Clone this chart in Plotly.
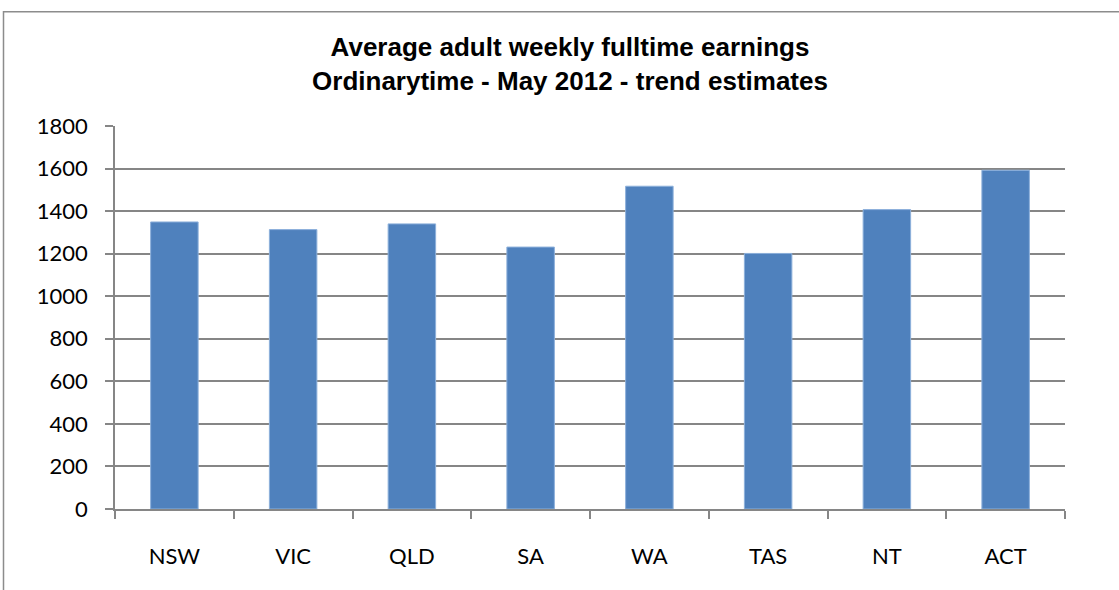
import plotly.graph_objects as go

states = ["NSW", "VIC", "QLD", "SA", "WA", "TAS", "NT", "ACT"]
earnings = [1349, 1313, 1340, 1231, 1517, 1201, 1407, 1592]
y_ticks = [0, 200, 400, 600, 800, 1000, 1200, 1400, 1600, 1800]

W, H = 1119, 590
L, R, T, B = 115, 54, 125.5, 80.5
pw, ph = W - L - R, H - T - B

def px_x(x):
    return (x - L) / pw

def px_y(y):
    return (H - B - y) / ph

fig = go.Figure(go.Bar(
    x=states, y=earnings,
    marker=dict(color="#4F81BD", line=dict(color="#8DB0DB", width=1)),
    width=0.4,
))

fig.update_layout(
    width=W, height=H,
    margin=dict(l=L, r=R, t=T, b=B),
    paper_bgcolor="white", plot_bgcolor="white",
    showlegend=False,
    title=dict(
        text="Average adult weekly fulltime earnings<br>Ordinarytime - May 2012 - trend estimates",
        x=570 / W, xanchor="center", xref="container",
        y=1 - 56 / H, yanchor="top",
        font=dict(family="Liberation Sans", size=26, color="black", weight="bold"),
    ),
    shapes=[dict(
        type="rect", xref="paper", yref="paper",
        x0=px_x(3.5), x1=px_x(1140), y0=px_y(11), y1=px_y(620),
        line=dict(color="#8C8C8C", width=1.5), fillcolor="rgba(0,0,0,0)",
        layer="below",
    )],
)

fig.update_xaxes(
    type="category",
    showline=True, linecolor="#868686", linewidth=1.5,
    ticks="outside", tickson="boundaries", ticklen=8, tickcolor="#868686", tickwidth=1.5,
    showgrid=False,
    tickfont=dict(family="Lato", size=22, color="black"),
    ticklabelstandoff=27,
)
fig.update_yaxes(
    range=[0, 1800], tickvals=y_ticks,
    showline=True, linecolor="#868686", linewidth=1.5,
    ticks="outside", ticklen=8, tickcolor="#868686", tickwidth=1.5,
    showgrid=True, gridcolor="#868686", gridwidth=1.5,
    zeroline=False,
    tickfont=dict(family="Lato", size=22, color="black"),
    ticklabelstandoff=13,
)

fig.write_html("out.html", config={"displayModeBar": False},
               post_script="document.body.style.margin='0';")
